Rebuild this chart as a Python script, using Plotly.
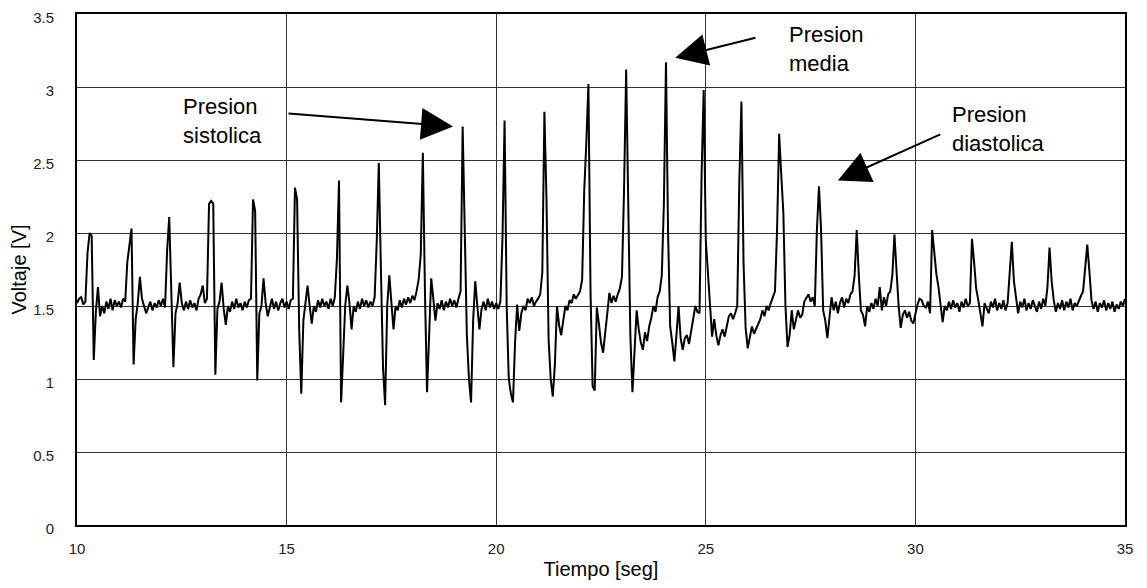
import plotly.graph_objects as go

# sampling of the recorded signal
t_start = 10.0
dt = 0.05

# voltage samples [V], one row per second (10.00 ... 35.00 s, every 0.05 s)
voltage = [
    1.52, 1.55, 1.56, 1.51, 1.53, 1.86, 2.00, 1.98, 1.13, 1.46, 1.63, 1.43, 1.50, 1.45, 1.53, 1.48, 1.55, 1.47, 1.54, 1.50,
    1.53, 1.49, 1.55, 1.53, 1.80, 1.91, 2.03, 1.10, 1.41, 1.52, 1.70, 1.55, 1.50, 1.45, 1.49, 1.53, 1.47, 1.52, 1.49, 1.54,
    1.50, 1.55, 1.49, 1.88, 2.11, 1.50, 1.08, 1.45, 1.52, 1.66, 1.52, 1.47, 1.53, 1.48, 1.54, 1.49, 1.52, 1.47, 1.55, 1.58,
    1.64, 1.52, 1.55, 2.20, 2.22, 2.20, 1.03, 1.48, 1.53, 1.66, 1.48, 1.37, 1.50, 1.46, 1.53, 1.48, 1.55, 1.49, 1.52, 1.47,
    1.53, 1.49, 1.54, 1.55, 2.23, 2.15, 0.99, 1.45, 1.50, 1.69, 1.52, 1.43, 1.50, 1.55, 1.48, 1.53, 1.47, 1.52, 1.55, 1.49,
    1.53, 1.48, 1.54, 1.55, 2.31, 2.23, 1.34, 0.90, 1.40, 1.53, 1.64, 1.50, 1.38, 1.50, 1.46, 1.54, 1.49, 1.55, 1.50, 1.53,
    1.48, 1.55, 1.50, 1.56, 1.82, 2.36, 0.84, 1.17, 1.51, 1.64, 1.52, 1.34, 1.50, 1.46, 1.53, 1.48, 1.55, 1.50, 1.54, 1.49,
    1.53, 1.50, 1.56, 1.94, 2.48, 1.75, 1.08, 0.82, 1.50, 1.71, 1.52, 1.34, 1.50, 1.47, 1.54, 1.49, 1.55, 1.51, 1.56, 1.52,
    1.57, 1.54, 1.60, 1.68, 1.85, 2.55, 1.60, 0.91, 1.30, 1.69, 1.55, 1.40, 1.52, 1.48, 1.54, 1.47, 1.53, 1.49, 1.55, 1.50,
    1.54, 1.49, 1.55, 1.60, 2.73, 2.00, 1.30, 1.00, 0.84, 1.40, 1.67, 1.50, 1.34, 1.48, 1.53, 1.47, 1.55, 1.49, 1.53, 1.48,
    1.52, 1.48, 1.53, 1.97, 2.77, 1.50, 1.00, 0.90, 0.84, 1.25, 1.51, 1.33, 1.45, 1.50, 1.47, 1.55, 1.52, 1.56, 1.50, 1.53,
    1.55, 1.58, 1.73, 2.83, 2.23, 1.27, 1.00, 0.88, 1.10, 1.50, 1.37, 1.30, 1.40, 1.50, 1.47, 1.54, 1.52, 1.58, 1.55, 1.58,
    1.60, 1.68, 2.29, 2.62, 3.02, 1.60, 0.95, 0.92, 1.49, 1.38, 1.25, 1.18, 1.30, 1.45, 1.59, 1.52, 1.57, 1.53, 1.58, 1.62,
    1.70, 2.30, 3.12, 2.18, 1.30, 0.91, 1.20, 1.47, 1.34, 1.25, 1.20, 1.32, 1.26, 1.36, 1.42, 1.50, 1.46, 1.56, 1.60, 1.71,
    2.20, 3.17, 2.00, 1.36, 1.25, 1.12, 1.30, 1.50, 1.28, 1.20, 1.28, 1.30, 1.24, 1.33, 1.40, 1.50, 1.46, 1.45, 2.41, 2.98,
    1.95, 1.73, 1.45, 1.29, 1.41, 1.30, 1.23, 1.30, 1.34, 1.29, 1.36, 1.43, 1.45, 1.41, 1.45, 1.50, 2.36, 2.90, 1.80, 1.35,
    1.21, 1.29, 1.36, 1.31, 1.34, 1.38, 1.41, 1.47, 1.43, 1.50, 1.47, 1.52, 1.56, 1.60, 2.02, 2.68, 2.40, 2.14, 1.50, 1.22,
    1.30, 1.47, 1.34, 1.40, 1.47, 1.42, 1.44, 1.53, 1.56, 1.58, 1.53, 1.56, 1.50, 2.02, 2.32, 2.02, 1.47, 1.40, 1.28, 1.40,
    1.56, 1.47, 1.53, 1.45, 1.52, 1.56, 1.49, 1.55, 1.52, 1.58, 1.60, 1.71, 2.02, 1.71, 1.47, 1.44, 1.36, 1.50, 1.46, 1.52,
    1.48, 1.55, 1.50, 1.63, 1.47, 1.56, 1.50, 1.58, 1.60, 1.71, 1.99, 1.74, 1.50, 1.35, 1.44, 1.47, 1.42, 1.46, 1.40, 1.38,
    1.45, 1.51, 1.55, 1.54, 1.50, 1.49, 1.53, 1.45, 2.02, 1.85, 1.72, 1.63, 1.52, 1.39, 1.50, 1.47, 1.53, 1.48, 1.54, 1.49,
    1.52, 1.46, 1.53, 1.49, 1.55, 1.50, 1.52, 1.96, 1.80, 1.62, 1.54, 1.45, 1.36, 1.52, 1.48, 1.45, 1.53, 1.49, 1.55, 1.47,
    1.52, 1.48, 1.54, 1.47, 1.52, 1.70, 1.94, 1.67, 1.54, 1.45, 1.53, 1.49, 1.55, 1.47, 1.52, 1.48, 1.54, 1.50, 1.46, 1.53,
    1.48, 1.55, 1.50, 1.63, 1.90, 1.67, 1.54, 1.46, 1.52, 1.48, 1.54, 1.47, 1.53, 1.49, 1.55, 1.47, 1.52, 1.50, 1.54, 1.57,
    1.60, 1.74, 1.92, 1.74, 1.54, 1.48, 1.53, 1.46, 1.52, 1.49, 1.54, 1.47, 1.52, 1.48, 1.53, 1.46, 1.51, 1.48, 1.53, 1.50,
    1.55,
]
time = [round(t_start + dt * i, 3) for i in range(len(voltage))]

x_ticks = [10, 15, 20, 25, 30, 35]
y_ticks = [0, 0.5, 1, 1.5, 2, 2.5, 3, 3.5]

# annotation labels: (text, text x, text y, arrow tip x, arrow tip y, tail x, tail y)
labels = [
    ("Presion<br>sistolica", 12.47, 2.77, 18.97, 2.73, 15.01, 2.82),
    ("Presion<br>media", 26.94, 3.26, 24.27, 3.20, 26.22, 3.34),
    ("Presion<br>diastolica", 30.83, 2.71, 28.15, 2.36, 30.63, 2.68),
]

FONT = "Liberation Sans, Arial, sans-serif"

fig = go.Figure()
fig.add_trace(go.Scatter(
    x=time, y=voltage, mode="lines",
    line=dict(color="black", width=2),
    showlegend=False, hoverinfo="skip",
))

for text, tx, ty, hx, hy, sx, sy in labels:
    fig.add_annotation(
        x=tx, y=ty, xref="x", yref="y", text=text, showarrow=False,
        xanchor="left", yanchor="middle", align="left",
        font=dict(family=FONT, size=22, color="black"),
    )
    fig.add_annotation(
        x=hx, y=hy, xref="x", yref="y",
        ax=sx, ay=sy, axref="x", ayref="y",
        text="", showarrow=True,
        arrowhead=2, arrowsize=3.2, arrowwidth=2, arrowcolor="black",
        standoff=0, startstandoff=0,
    )

# the page body adds an 8 px margin, so the figure is sized to fit inside the window
fig.update_layout(
    width=1131, height=572,
    margin=dict(l=69, r=14, t=6, b=55),
    plot_bgcolor="white", paper_bgcolor="white",
    font=dict(family=FONT, color="black"),
)
fig.update_xaxes(
    range=[10, 35], tickvals=x_ticks, automargin=False,
    showgrid=True, gridcolor="#333", gridwidth=1,
    showline=True, linecolor="black", linewidth=2, mirror=True,
    zeroline=False, ticks="",
    ticklabelstandoff=9, ticklabeloverflow="allow",
    tickfont=dict(family=FONT, size=15, color="#222"),
    title=dict(text="Tiempo [seg]", font=dict(family=FONT, size=20, color="black"), standoff=14),
)
fig.update_yaxes(
    range=[0, 3.5], tickvals=y_ticks, automargin=False,
    showgrid=True, gridcolor="#333", gridwidth=1,
    showline=True, linecolor="black", linewidth=2, mirror=True,
    zeroline=False, ticks="",
    ticklabelstandoff=18, ticklabeloverflow="allow", ticklabelshift=4,
    tickfont=dict(family=FONT, size=15, color="#222"),
    title=dict(text="Voltaje [V]", font=dict(family=FONT, size=20, color="black"), standoff=2),
)

fig.write_html("out.html")
